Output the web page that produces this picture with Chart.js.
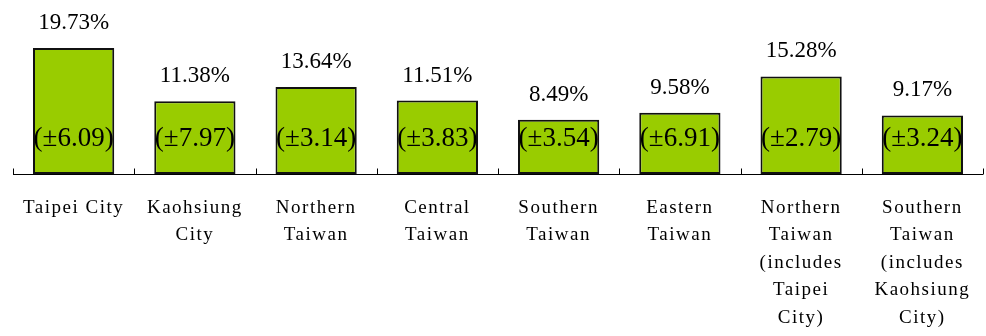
<!DOCTYPE html>
<html>
<head>
<meta charset="utf-8">
<title>Rates by region</title>
<script src="https://cdn.jsdelivr.net/npm/chart.js@4/dist/chart.umd.min.js"></script>
<style>
    html, body { margin: 0; padding: 0; background: #fff; }
    #wrap { width: 986px; height: 336px; position: relative; }
</style>
</head>
<body>
<div id="wrap"><canvas id="regionChart"></canvas></div>
<script>
const categories = [
    'Taipei City',
    ['Kaohsiung', 'City'],
    ['Northern', 'Taiwan'],
    ['Central', 'Taiwan'],
    ['Southern', 'Taiwan'],
    ['Eastern', 'Taiwan'],
    ['Northern', 'Taiwan', '(includes', 'Taipei', 'City)'],
    ['Southern', 'Taiwan', '(includes', 'Kaohsiung', 'City)']
];
const rates = [19.73, 11.38, 13.64, 11.51, 8.49, 9.58, 15.28, 9.17];
const margins = [6.09, 7.97, 3.14, 3.83, 3.54, 6.91, 2.79, 3.24];

const SERIF = '"Liberation Serif", "Times New Roman", serif';

/* ===================================================== */
/* axis line with short upward ticks between categories  */
/* ===================================================== */

const axisPlugin = {
    id: 'axisTicks',
    beforeDraw(chart) {
        chart.ctx.letterSpacing = '1.5px';
    },
    beforeDatasetsDraw(chart) {
        chart.ctx.letterSpacing = '0px';
    },
    afterDatasetsDraw(chart) {
        const ctx = chart.ctx;
        const x = chart.scales.x;
        const y = chart.scales.y;
        const base = Math.round(y.getPixelForValue(0)) + 0.5;
        const step = x.width / categories.length;

        ctx.save();
        ctx.strokeStyle = '#000';
        ctx.lineWidth = 1;
        ctx.beginPath();
        ctx.moveTo(x.left, base);
        ctx.lineTo(x.right, base);
        for (let i = 0; i <= categories.length; i++) {
            const px = Math.round(x.left + i * step) + 0.5;
            ctx.moveTo(px, base);
            ctx.lineTo(px, base - 6);
        }
        ctx.stroke();

        // value above each bar, margin of error inside near the base
        const meta = chart.getDatasetMeta(0);
        ctx.fillStyle = '#000';
        ctx.textAlign = 'center';
        ctx.textBaseline = 'middle';
        meta.data.forEach((bar, i) => {
            ctx.font = '23px ' + SERIF;
            ctx.fillText(rates[i].toFixed(2) + '%', bar.x, bar.y - 25);
            ctx.font = '27px ' + SERIF;
            ctx.fillText('(\u00b1' + margins[i].toFixed(2) + ')', bar.x, base - 36);
        });
        ctx.restore();
    }
};

const ctx = document.getElementById('regionChart').getContext('2d');

new Chart(ctx, {
    type: 'bar',
    data: {
        labels: categories,
        datasets: [{
            data: rates,
            backgroundColor: '#99CC00',
            borderColor: '#111',
            borderWidth: 2,
            borderSkipped: false,
            barPercentage: 0.67,
            categoryPercentage: 1
        }]
    },
    options: {
        responsive: true,
        maintainAspectRatio: false,
        animation: false,
        layout: { padding: { left: 13, right: 3, top: 0, bottom: 0 } },
        plugins: {
            legend: { display: false },
            tooltip: { enabled: false }
        },
        scales: {
            x: {
                grid: { display: false },
                border: { display: false },
                ticks: {
                    color: '#000',
                    font: { family: SERIF, size: 19, lineHeight: 1.45 },
                    padding: 12,
                    maxRotation: 0,
                    autoSkip: false
                },
                afterFit(scale) {
                    scale.height = 162;
                }
            },
            y: {
                display: false,
                min: 0,
                max: 27.25
            }
        }
    },
    plugins: [axisPlugin]
});
</script>
</body>
</html>
